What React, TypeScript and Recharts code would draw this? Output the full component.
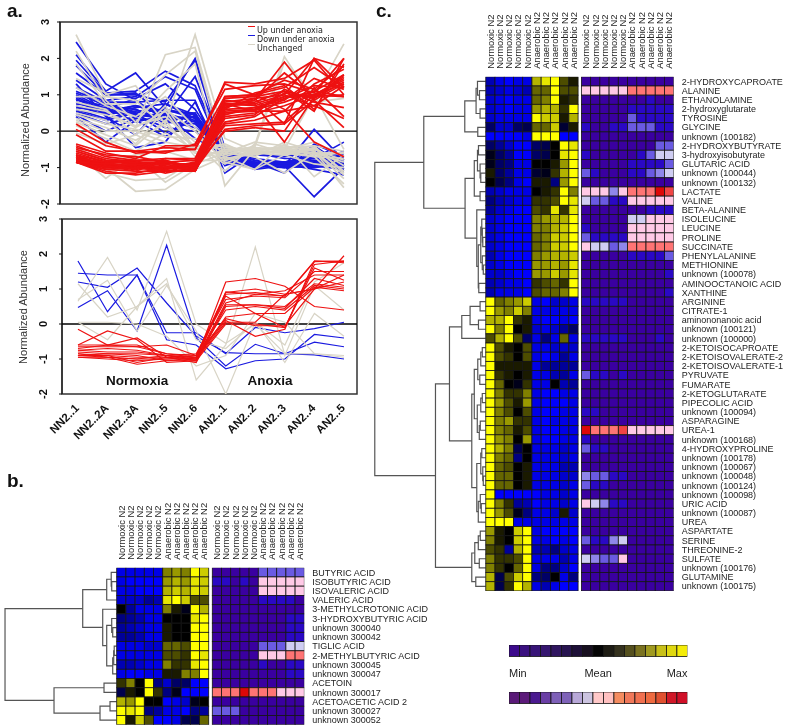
import { Legend, Line, LineChart, ReferenceArea, ReferenceDot, Scatter, ScatterChart, XAxis, YAxis } from 'recharts';

const SANS = '"Liberation Sans", Arial, sans-serif';

const sampleLabels = ['NN2..1', 'NN2..2A', 'NN2..3A', 'NN2..5', 'NN2..6', 'AN2..1', 'AN2..2', 'AN2..3', 'AN2..4', 'AN2..5'];
const yTicks = [-2, -1, 0, 1, 2, 3];
const zeroLine = [{ t: -0.54, v: 0 }, { t: 9.44, v: 0 }];

// panel a, top: normalized abundance per sample
const topRed = [
  [0.2, -0.3, -0.6, -0.55, -0.5, 1.35, 1.3, 1.45, 1.95, 1.0],
  [0.05, -0.4, -0.55, -0.6, -0.35, 1.15, 1.25, 1.3, 1.05, 2.0],
  [-0.1, -0.55, -0.55, -0.45, -0.5, 0.95, 1.0, 1.4, 1.15, 1.8],
  [-0.35, -0.6, -0.75, -0.4, -0.4, 1.3, 1.0, 1.2, 1.75, 1.2],
  [-0.4, -0.7, -0.8, -0.75, -0.75, 0.9, 0.95, 1.1, 0.55, 2.0],
  [-0.5, -0.75, -0.85, -0.85, -0.8, 0.8, 0.9, 1.0, 2.0, 1.75],
  [-0.55, -0.8, -0.9, -0.9, -0.9, 0.75, 0.8, 1.1, 0.9, 1.55],
  [-0.6, -0.85, -0.85, -0.95, -1.0, 0.75, 0.7, 0.95, 1.0, 1.4],
  [-0.65, -0.85, -0.9, -1.0, -0.95, 0.7, 0.75, 1.0, 0.7, 1.25],
  [-0.7, -0.9, -0.95, -0.85, -1.05, 0.65, 0.85, 1.9, 0.85, 1.3],
  [-0.75, -0.9, -1.0, -1.0, -1.0, 0.6, 0.65, 0.9, 1.25, 1.2],
  [-0.75, -0.95, -0.95, -0.9, -1.1, 0.55, 0.6, 0.95, 1.0, 0.95],
  [-0.8, -0.85, -0.85, -1.05, -0.95, 0.5, 0.6, 0.8, 1.1, 1.55],
  [-0.8, -0.95, -1.0, -1.1, -1.05, 0.5, 0.55, 1.05, 0.9, 1.35],
  [-0.8, -1.0, -1.05, -0.95, -1.1, 0.45, 0.65, 0.85, 1.45, 1.15],
  [-0.85, -1.05, -1.1, -1.1, -1.1, 0.4, 0.5, 0.7, 1.0, 1.45],
  [-0.85, -1.0, -0.95, -1.0, -1.0, 0.35, 0.45, 1.15, 0.8, 0.65],
  [-0.85, -1.1, -1.2, -1.1, -1.1, 0.75, 0.55, 0.55, 0.7, 0.35],
  [-0.85, -0.95, -1.0, -1.05, -0.9, 0.25, 0.4, 0.9, 1.1, 0.95],
  [-0.8, -0.9, -0.95, -1.15, -1.0, 0.2, 0.3, 0.55, 1.3, 1.7],
  [-0.7, -1.0, -0.9, -1.0, -0.85, 0.15, 0.2, 0.25, 1.0, 1.3],
  [-0.65, -0.95, -1.1, -0.8, -1.05, 0.05, 0.15, 0.2, 0.85, 0.1],
  [-0.85, -1.05, -1.0, -1.1, -0.95, 0.0, 0.1, 0.0, 1.2, 0.4],
  [-0.85, -1.15, -1.15, -1.0, -1.05, 0.95, 1.0, 0.6, -0.3, -0.7],
  [-0.55, -0.8, -0.8, -1.1, -1.1, 0.65, 0.9, 0.2, 2.0, 1.2],
  [-0.45, -0.65, -0.7, -0.85, -0.95, 0.85, 0.75, -0.3, 0.95, 1.0],
  [-0.75, -0.85, -1.05, -0.75, -0.8, 0.6, 1.05, 1.25, 0.6, 1.85],
  [-0.85, -0.9, -0.8, -0.8, -1.0, 0.7, 0.85, 1.6, 0.95, 1.5],
];
const topBlue = [
  [2.45, 1.3, 0.85, 0.3, 0.1, -0.5, -0.8, -0.85, -0.7, -0.75],
  [2.1, 1.1, 1.6, 0.65, 2.0, -0.45, -0.9, -0.9, -0.8, -0.85],
  [1.95, 1.05, 1.1, 1.65, 1.25, -0.6, -0.95, -0.9, -1.05, -1.2],
  [1.8, 1.0, 1.0, 0.8, 1.95, -0.7, -0.85, -1.15, -0.35, -0.7],
  [1.6, 1.0, 1.05, 0.4, 1.5, -0.55, -0.8, -0.95, -1.8, -1.0],
  [1.4, 0.85, 0.95, 1.5, 1.15, -0.75, -0.95, -0.85, -0.9, -0.6],
  [1.2, 0.8, 0.8, 0.85, 0.85, -1.15, -0.6, -0.75, -0.75, -0.3],
  [1.0, 0.6, 0.9, 1.3, 0.6, -0.65, -0.9, -0.95, 0.05, -0.8],
  [0.95, 0.55, 0.7, 0.55, 0.5, -0.9, -0.95, -0.9, -0.6, -0.95],
  [0.8, 0.5, 0.65, 0.75, 0.45, -0.6, -0.9, -0.85, -0.95, -0.7],
  [0.7, 0.45, 0.6, 0.3, 0.4, -0.95, -0.65, -0.7, -0.55, -0.85],
  [0.6, 0.35, 0.55, 0.6, 0.35, -0.55, -0.95, -1.0, -0.85, -0.55],
  [0.55, 0.3, 0.5, -0.05, 0.3, -0.7, -1.05, -0.95, -0.4, -0.95],
  [0.5, 0.2, 0.4, 0.5, 0.25, -0.85, -0.9, -0.9, -0.85, -0.65],
  [0.45, 0.0, 0.35, 0.25, 0.2, -0.6, -0.75, -0.85, -0.7, -1.1],
  [0.4, -0.3, 0.3, -0.15, 0.45, -0.5, -0.95, -0.9, -0.6, -0.8],
  [0.9, 0.45, -0.45, -0.3, 0.8, -0.8, -0.85, -0.95, -1.0, -0.9],
  [1.05, 0.7, 0.45, 0.1, 0.0, -0.65, -1.0, -0.9, -0.75, -0.75],
  [0.75, 0.65, 0.25, 0.45, -0.2, -0.6, -0.85, -1.0, -0.95, -1.05],
  [1.3, 0.4, -0.1, 0.75, 0.35, -0.7, -0.95, -0.85, -0.85, -0.9],
  [0.85, 0.7, 0.6, 0.2, 0.5, -0.75, -1.0, -0.92, -0.9, -0.85],
  [1.1, 0.75, 0.5, 0.6, 0.45, -0.65, -0.88, -0.98, -0.95, -0.95],
  [0.65, 0.55, 0.45, 0.35, 0.4, -0.85, -0.98, -0.88, -0.92, -0.8],
  [0.9, 0.5, 0.7, 0.45, 0.3, -0.7, -0.92, -0.95, -0.88, -1.0],
];
const topGray = [
  [2.65, 1.0, 1.25, 0.2, 2.65, -0.2, -0.55, -0.4, -0.55, -1.2],
  [2.2, 0.85, 0.1, 2.1, 2.3, -0.55, -0.5, -0.45, -0.6, -0.6],
  [1.85, 0.75, 0.75, 1.55, 2.2, -0.8, -0.6, -0.55, -0.6, -0.85],
  [1.45, 1.05, 0.25, 1.1, 1.85, -1.5, -0.5, -0.5, 0.95, 2.4],
  [1.2, 0.7, 0.4, 0.95, 0.1, -0.65, -0.4, 2.05, 0.8, 0.9],
  [0.95, 0.95, 0.85, 0.1, -0.4, -0.5, -0.45, 1.9, 1.0, -0.5],
  [0.8, 0.6, -0.1, 0.7, -0.5, -0.35, -0.7, -0.3, -0.55, -1.55],
  [0.7, 0.55, 0.1, 0.55, -0.55, -0.75, -0.6, -0.65, -0.45, -0.95],
  [0.6, 0.45, 0.15, 0.4, -0.3, -1.1, -0.35, -0.6, -0.45, -1.1],
  [0.5, 0.3, -0.35, 0.6, 0.0, -0.85, -1.05, -0.35, -1.25, -0.65],
  [0.45, 0.2, 0.05, -0.15, -0.2, -0.45, -0.55, -0.6, -0.5, -0.8],
  [0.35, 0.1, -0.25, 0.2, -0.6, -0.6, -0.3, -0.4, -0.55, -1.3],
  [0.3, 0.0, 0.0, -0.3, -0.45, -0.7, -0.45, -0.5, -0.3, -0.7],
  [0.25, -0.1, -0.4, 0.3, -0.7, -0.55, -0.65, -0.5, -0.65, -0.6],
  [0.15, -0.2, -0.55, -0.05, -0.5, -0.4, -0.6, -0.55, -0.4, -0.55],
  [-0.05, -0.35, -0.1, -0.45, -0.35, -0.9, -0.5, -0.45, -0.4, -1.15],
  [-0.45, -0.85, -0.65, -0.55, -0.8, -0.5, -0.55, -0.55, -0.7, -0.75],
  [-0.6, -1.3, -0.7, -1.4, -0.9, -0.6, -0.7, -1.15, -0.6, -0.6],
  [-0.7, -1.0, -1.65, -1.6, -1.05, -0.7, -1.05, -0.65, -0.9, -1.0],
  [-0.75, -1.15, -1.35, -1.3, -0.8, -0.8, -0.55, -0.6, -0.7, -1.45],
];

// panel a, bottom: the smaller selection
const botRed = [
  [-0.15, -0.6, -0.4, -0.95, -1.0, 1.2, 1.3, 1.08, 0.5, 0.4],
  [-0.6, -0.2, -0.45, -1.1, -1.05, 0.92, 0.85, 0.8, 1.8, 1.78],
  [-0.7, -0.6, -0.65, -0.6, -0.9, 0.9, 1.0, 0.85, 1.0, 1.95],
  [-0.6, -0.6, -0.6, -0.85, -0.9, 0.85, 0.9, 0.8, 1.78, 1.8],
  [-0.65, -0.65, -0.65, -0.85, -0.95, 0.8, 0.3, -0.1, 1.6, 1.25],
  [-0.75, -0.7, -0.75, -0.9, -0.85, 0.7, 0.8, 0.75, 1.5, 1.5],
  [-0.75, -0.8, -0.8, -0.9, -1.0, 0.6, 0.85, 0.95, 1.4, 1.4],
  [-0.8, -0.85, -0.85, -0.9, -1.05, 0.55, 0.55, 0.45, 1.3, 1.1],
  [-0.85, -0.9, -1.1, -0.95, -1.1, 0.5, 0.55, 0.5, 1.15, 1.05],
  [-0.85, -0.95, -1.0, -1.0, -0.95, 0.4, 0.5, 0.4, 1.1, 1.0],
  [-0.9, -0.85, -0.9, -1.05, -1.0, 0.2, 0.3, 0.3, 1.05, 0.95],
  [-0.9, -0.9, -0.95, -0.95, -0.9, 0.15, -0.05, -0.05, 1.0, 1.4],
  [-0.95, -0.95, -1.0, -0.9, -0.95, 0.1, -0.35, -0.15, 1.8, 1.75],
  [-0.95, -1.0, -1.05, -1.0, -1.0, 0.05, 0.05, 0.85, 1.0, 1.2],
  [-0.9, -0.95, -1.15, -1.05, -1.05, 0.0, 0.0, -0.1, 1.7, 1.8],
];
const botBlue = [
  [1.8, 0.35, 1.4, -0.45, -0.6, -1.28, -1.05, -1.0, -0.3, -0.4],
  [0.47, 0.95, -0.2, 2.25, -0.4, -1.2, -0.58, -0.85, -0.88, -1.0],
  [1.45, 1.4, 1.4, -0.25, -0.25, -0.85, -0.1, -0.25, -0.13, 0.05],
  [1.2, 1.05, 1.6, 0.6, -0.35, -0.82, -0.85, -0.85, -0.52, -0.65],
];
const botGray = [
  [0.65, 1.9, 0.4, 2.65, 0.0, -0.55, 0.0, -0.85, -0.85, -0.9],
  [1.15, 0.2, 0.5, 1.3, -1.6, -0.6, 2.2, -0.9, 1.1, 0.4],
  [0.7, 1.25, -0.2, 1.1, -0.2, -2.0, 0.05, -1.1, 0.3, -0.35],
  [0.05, 0.05, 0.0, -0.35, -1.2, -0.9, 0.3, 0.05, -0.85, -0.95],
  [0.05, -0.45, 0.5, 1.15, -0.45, -0.7, 0.05, -0.6, 1.2, 1.75],
];

const namesB = ['BUTYRIC ACID', 'ISOBUTYRIC ACID', 'ISOVALERIC ACID', 'VALERIC ACID', '3-METHYLCROTONIC ACID', '3-HYDROXYBUTYRIC ACID', 'unknown 300040', 'unknown 300042', 'TIGLIC ACID', '2-METHYLBUTYRIC ACID', 'unknown 300045', 'unknown 300047', 'ACETOIN', 'unknown 300017', 'ACETOACETIC ACID 2', 'unknown 300027', 'unknown 300052'];
const groupNames = ['Normoxic N2', 'Normoxic N2', 'Normoxic N2', 'Normoxic N2', 'Normoxic N2', 'Anaerobic N2', 'Anaerobic N2', 'Anaerobic N2', 'Anaerobic N2', 'Anaerobic N2'];

// -10 blue, 0 black, 10 yellow
const zScoreB = [
  [-9, -9, -9, -9, -9, 5, 6, 5, 10, 8],
  [-9, -10, -10, -10, -10, 6, 7, 6, 9, 8],
  [-9, -9, -10, -10, -10, 7, 8, 7, 9, 8],
  [-8, -8, -8, -6, -7, 9, 10, 8, 3, 3],
  [0, -6, -9, -9, -9, 5, 1, -1, 10, 7],
  [-5, -6, -7, -9, -9, 0, 0, 0, 9, 10],
  [-6, -7, -8, -9, -9, 1, 0, 0, 10, 10],
  [-6, -6, -7, -9, -9, 1, 0, 0, 10, 10],
  [-9, -9, -9, -8, -8, 4, 4, 3, 10, 10],
  [-9, -9, -9, -9, -9, 3, 3, 2, 10, 9],
  [-7, -7, -8, -9, -9, 5, 2, 2, 9, 10],
  [-9, -10, -10, -9, -9, 1, 1, 5, 5, 10],
  [2, 5, 0, 10, -5, -8, -4, -4, -10, -10],
  [-3, 1, 0, 10, 2, -5, -1, -10, -10, -10],
  [7, 6, 10, 0, 0, -10, -9, -8, -1, 0],
  [10, 9, 10, -5, -6, -9, -9, -10, -5, -6],
  [10, 1, 8, 3, -10, -10, -9, -3, -3, 4],
];
// 0 indigo up to 10 red
const foldB = [
  [0, 0, 0, 0, 0, 3, 3, 3, 3, 3],
  [1, 1, 0, 1, 0, 6, 6, 6, 6, 6],
  [0, 0, 0, 0, 0, 6, 6, 6, 6, 6],
  [0, 0, 0, 0, 0, 1, 1, 1, 1, 0],
  [0, 0, 0, 0, 0, 0, 0, 0, 0, 0],
  [0, 0, 0, 0, 0, 0, 0, 0, 1, 1],
  [0, 0, 0, 0, 0, 0, 0, 0, 1, 1],
  [0, 0, 0, 0, 0, 0, 0, 0, 1, 1],
  [0, 0, 0, 0, 0, 3, 3, 3, 5, 5],
  [0, 0, 0, 0, 0, 6, 6, 6, 8, 8],
  [0, 0, 0, 0, 0, 1, 0, 0, 1, 1],
  [0, 0, 0, 0, 0, 0, 0, 0, 1, 1],
  [0, 0, 0, 0, 0, 0, 0, 0, 0, 0],
  [8, 8, 8, 10, 8, 8, 8, 6, 6, 6],
  [0, 0, 0, 0, 0, 0, 0, 0, 0, 0],
  [3, 3, 3, 0, 0, 0, 0, 0, 0, 0],
  [0, 0, 0, 0, 0, 0, 0, 0, 0, 0],
];
// [height, child, child]; a plain number is a row
const treeB = [111.7,
  [34, [10, [5.5, 1, [5, 2, 3]], 4], [14, 5, [10, [5, 6, [4, 7, 8]], [4, [3, [2.5, 9, 10], 11], 12]]]],
  [62.7, [12.7, 13, 14], [16.7, [6.7, 15, 16], 17]]];

const namesC = ['2-HYDROXYCAPROATE', 'ALANINE', 'ETHANOLAMINE', '2-hydroxyglutarate', 'TYROSINE', 'GLYCINE', 'unknown (100182)', '2-HYDROXYBUTYRATE', '3-hydroxyisobutyrate', 'GLUTARIC ACID', 'unknown (100044)', 'unknown (100132)', 'LACTATE', 'VALINE', 'BETA-ALANINE', 'ISOLEUCINE', 'LEUCINE', 'PROLINE', 'SUCCINATE', 'PHENYLALANINE', 'METHIONINE', 'unknown (100078)', 'AMINOOCTANOIC ACID', 'XANTHINE', 'ARGININE', 'CITRATE-1', 'aminononanoic acid', 'unknown (100121)', 'unknown (100000)', '2-KETOISOCAPROATE', '2-KETOISOVALERATE-2', '2-KETOISOVALERATE-1', 'PYRUVATE', 'FUMARATE', '2-KETOGLUTARATE', 'PIPECOLIC ACID', 'unknown (100094)', 'ASPARAGINE', 'UREA-1', 'unknown (100168)', '4-HYDROXYPROLINE', 'unknown (100178)', 'unknown (100067)', 'unknown (100048)', 'unknown (100124)', 'unknown (100098)', 'URIC ACID', 'unknown (100087)', 'UREA', 'ASPARTATE', 'SERINE', 'THREONINE-2', 'SULFATE', 'unknown (100176)', 'GLUTAMINE', 'unknown (100175)'];
const zScoreC = [
  [-7, -9, -10, -9, -9, 7, 9, 10, 3, 1],
  [-7, -8, -9, -8, -7, 4, 4, 10, 3, 3],
  [-8, -9, -10, -9, -9, 4, 5, 10, 1, 2],
  [-8, -9, -10, -9, -9, 6, 7, 7, 2, 10],
  [-8, -9, -9, -9, -9, 10, 8, 8, 1, 7],
  [-4, -8, -8, -4, -3, 4, 4, 8, -2, 1],
  [-10, -10, -10, -10, -9, 10, 10, 10, -10, -10],
  [-4, -6, -8, -10, -10, -4, -3, 0, 10, 9],
  [-1, -4, -6, -10, -10, -4, -3, 0, 9, 10],
  [-1, -4, -5, -9, -9, 0, 0, 1, 6, 10],
  [1, -4, -6, -9, -9, -2, -1, 2, 7, 10],
  [0, -3, -5, -9, -10, 1, 1, -5, 6, 10],
  [-7, -8, -9, -9, -9, 0, 1, 2, 10, 5],
  [-5, -7, -8, -9, -9, 2, 2, 3, 10, 9],
  [-6, -8, -9, -10, -10, 3, 2, 9, 2, 9],
  [-8, -9, -10, -10, -10, 5, 6, 7, 7, 10],
  [-8, -9, -10, -10, -10, 5, 5, 7, 8, 10],
  [-8, -9, -10, -10, -10, 4, 5, 8, 8, 10],
  [-8, -9, -10, -10, -10, 4, 5, 8, 8, 10],
  [-7, -9, -10, -10, -10, 5, 6, 7, 7, 8],
  [-8, -9, -10, -10, -10, 6, 6, 7, 6, 9],
  [-8, -8, -9, -10, -10, 6, 6, 8, 6, 9],
  [-7, -8, -9, -9, -10, 2, 3, 4, 2, 10],
  [-7, -9, -9, -9, -10, 3, 4, 4, 5, 10],
  [10, 4, 5, 6, 8, -9, -10, -8, -8, -9],
  [10, 6, 5, 8, 5, -9, -9, -9, -9, -9],
  [7, 7, 10, 2, 1, -9, -10, -10, -9, -10],
  [10, 5, 10, 0, 1, -8, -9, -8, -6, -4],
  [3, 7, 10, 3, -4, -9, -5, -9, 4, -9],
  [10, 3, 1, 0, 3, -9, -9, -8, -8, -8],
  [10, 3, 2, 0, 3, -9, -10, -9, -6, -9],
  [10, 1, 1, 1, 1, -9, -6, -6, -6, -6],
  [10, 2, 1, 0, 1, -9, -9, -7, -6, -9],
  [10, 4, 0, -1, 2, -9, -9, 0, -7, -6],
  [10, 5, 2, 2, 5, -9, -10, -10, -9, -9],
  [10, 6, 3, 1, 6, -9, -10, -10, -10, -9],
  [10, 5, 3, 0, 3, -9, -10, -10, -9, -9],
  [10, 5, 6, 2, 2, -9, -10, -9, -9, -9],
  [10, 5, 4, 1, 3, -9, -10, -10, -9, -9],
  [10, 6, 5, 0, 6, -9, -10, -10, -9, -9],
  [10, 7, 5, -3, 0, -9, -9, -9, -8, -9],
  [10, 5, 4, -5, 0, -9, -9, -9, -8, -9],
  [10, 4, 3, 0, 1, -9, -9, -9, -7, -7],
  [10, 4, 4, 0, 1, -9, -9, -9, -8, -8],
  [10, 4, 4, 0, 1, -9, -9, -9, -8, -9],
  [10, -10, -10, -10, -10, -10, -9, -9, -8, -9],
  [10, 5, 2, -6, -7, -10, -9, -9, -8, -9],
  [10, 6, 3, -1, -5, -9, -9, -8, 1, -8],
  [10, 10, 10, -9, -9, -9, -9, -9, -9, -9],
  [6, 1, 0, 8, 10, -9, -10, -10, -10, -10],
  [5, 1, 0, 8, 10, -9, -9, -10, -9, -10],
  [3, 2, -6, 7, 10, -7, -7, -5, -8, -9],
  [5, 2, 2, 3, 10, -9, -9, -9, -7, -9],
  [5, 2, 0, 4, 10, -9, -5, -5, -8, -10],
  [7, -3, 3, 8, 10, -5, -4, 0, -9, -5],
  [7, -3, 2, 10, 7, -9, -7, -9, -10, -10],
];
const foldC = [
  [0, 0, 0, 0, 0, 0, 0, 0, 0, 0],
  [6, 6, 6, 6, 6, 8, 8, 8, 8, 8],
  [0, 0, 0, 0, 0, 0, 0, 1, 0, 0],
  [0, 0, 0, 0, 0, 1, 1, 1, 1, 1],
  [0, 0, 0, 0, 0, 3, 1, 1, 1, 1],
  [1, 0, 0, 1, 1, 3, 3, 3, 1, 1],
  [0, 0, 0, 0, 0, 0, 0, 0, 0, 0],
  [0, 0, 0, 0, 0, 0, 0, 0, 3, 3],
  [1, 0, 0, 0, 0, 0, 1, 3, 5, 5],
  [0, 0, 0, 0, 0, 1, 1, 1, 1, 3],
  [3, 1, 0, 0, 0, 1, 1, 3, 4, 5],
  [0, 0, 0, 0, 0, 0, 0, 0, 0, 0],
  [6, 6, 6, 4, 6, 8, 8, 8, 10, 9],
  [5, 3, 3, 1, 1, 6, 6, 6, 6, 6],
  [0, 0, 0, 0, 0, 0, 0, 1, 1, 1],
  [0, 0, 0, 0, 0, 5, 5, 6, 6, 6],
  [1, 0, 0, 0, 0, 6, 6, 6, 6, 6],
  [3, 1, 1, 1, 1, 6, 6, 6, 6, 6],
  [6, 5, 5, 3, 4, 8, 8, 8, 8, 8],
  [0, 0, 0, 0, 0, 1, 1, 1, 1, 3],
  [0, 0, 0, 0, 0, 0, 0, 0, 0, 0],
  [0, 0, 0, 0, 0, 0, 0, 0, 0, 1],
  [0, 0, 0, 0, 0, 0, 0, 0, 0, 0],
  [0, 0, 0, 0, 0, 0, 0, 0, 0, 1],
  [1, 1, 1, 1, 1, 0, 0, 0, 0, 0],
  [0, 0, 0, 0, 0, 0, 0, 0, 0, 0],
  [0, 0, 0, 0, 0, 0, 0, 0, 0, 0],
  [0, 0, 0, 0, 0, 0, 0, 0, 0, 0],
  [1, 1, 1, 1, 1, 0, 0, 0, 1, 0],
  [0, 0, 0, 0, 0, 0, 0, 0, 0, 0],
  [0, 0, 0, 0, 0, 0, 0, 0, 0, 0],
  [0, 0, 0, 0, 0, 0, 0, 0, 0, 0],
  [3, 1, 1, 0, 1, 0, 0, 0, 0, 0],
  [0, 0, 0, 0, 0, 0, 0, 0, 0, 0],
  [0, 0, 0, 0, 0, 0, 0, 0, 0, 0],
  [0, 0, 0, 0, 0, 0, 0, 0, 0, 0],
  [1, 1, 0, 0, 0, 0, 0, 0, 0, 0],
  [0, 0, 0, 0, 0, 0, 0, 0, 0, 0],
  [10, 8, 8, 8, 9, 6, 6, 6, 6, 6],
  [1, 0, 0, 0, 0, 0, 0, 0, 0, 0],
  [3, 1, 1, 0, 0, 0, 0, 0, 0, 0],
  [0, 0, 0, 0, 0, 0, 0, 0, 0, 0],
  [0, 0, 0, 0, 0, 0, 0, 0, 0, 0],
  [4, 3, 3, 1, 1, 0, 0, 0, 0, 0],
  [3, 1, 1, 0, 0, 0, 0, 0, 0, 0],
  [0, 0, 0, 0, 0, 0, 0, 0, 0, 0],
  [6, 5, 4, 1, 1, 0, 0, 0, 0, 0],
  [0, 0, 0, 0, 0, 0, 0, 0, 0, 0],
  [0, 0, 0, 0, 0, 0, 0, 0, 0, 0],
  [0, 0, 0, 0, 0, 0, 0, 0, 0, 0],
  [3, 1, 1, 4, 5, 0, 0, 0, 0, 0],
  [0, 0, 0, 0, 0, 0, 0, 0, 0, 0],
  [5, 4, 3, 3, 6, 0, 0, 0, 0, 0],
  [0, 0, 0, 0, 0, 0, 0, 0, 0, 0],
  [0, 0, 0, 0, 0, 0, 0, 0, 0, 0],
  [0, 0, 0, 0, 0, 0, 0, 0, 0, 0],
];
const treeC = [111,
  [62,
    [21, [9.7, [8.3, 1, [6.3, 2, 3]], [5.7, 4, 5]], [8, 6, 7]],
    [20.7,
      [11.5, [8.3, [7.3, 8, 9], [5.7, 10, [5, 11, 12]]], [5.7, 13, 14]],
      [9, 15, [7.5, [5, [4, 16, [3.5, 17, [3, 18, 19]]], [3.5, 20, [2.5, 21, 22]]], [7, 23, 24]]]]],
  [50.3,
    [36.3,
      [24, [15.7, [5.7, 25, 26], [7.3, 27, 28]], 29],
      [14,
        [11.5, [8, [5, [3.5, 30, 31], 32], [6, 33, 34]], [8.5, [5, [3.5, 35, 36], 37], [6.5, [5.5, 38, 39], 40]]],
        [9, [5, [4, 41, 42], [3, 43, [2.5, 44, 45]]], [7.5, [5.5, 46, [4.5, 47, 48]], 49]]]],
    [14, [11, [7.5, [5.5, 50, 51], 52], [6.5, 53, 54]], [10, 55, 56]]]];

const foldPalette = ['#3a00a0', '#2a08c4', '#2424d2', '#6a5ae2', '#8f86ea', '#cfcdf2', '#ffc9e6', '#ff9a9e', '#ff7474', '#f04444', '#dd0808'];
const scaleTop = ['#3c0a8c', '#3a1080', '#381478', '#361670', '#301660', '#281450', '#1e1038', '#181020', '#050505', '#1e1c14', '#35321e', '#55501e', '#7a7220', '#a09a20', '#c8c018', '#e0d810', '#f4ec08'];
const scaleBottom = ['#5a1a78', '#5c1a7a', '#4b1a90', '#6a3ea5', '#7e60b8', '#7e62b8', '#b8a8d8', '#ccc4e0', '#ffc8c8', '#ffc0c0', '#f48c60', '#f0785a', '#f07050', '#ee6a40', '#e05030', '#d01828', '#d01028'];
const scaleLabels = ['Min', 'Mean', 'Max'];

function zColor(v: number) {
  if (v < 0) return `rgb(0,0,${Math.round(255 * (-v / 10))})`;
  const c = Math.round(255 * (v / 10));
  return `rgb(${c},${c},0)`;
}

function linePoints(values: number[]) {
  return values.map((v, i) => ({ t: i, v }));
}

const CellRect = (w: number, h: number) => (props: any) => (
  <rect x={props.cx - w / 2} y={props.cy - h / 2} width={w} height={h} fill={props.payload.fill} stroke="#141414" strokeWidth={0.8} />
);

const YTick = ({ x, y, payload, shift }: any) => (
  <text x={x - shift} y={y} textAnchor="middle" fontFamily={SANS} fontWeight="bold" fontSize={11} fill="#111" transform={`rotate(-90 ${x - shift} ${y})`}>
    {payload.value}
  </text>
);

const SampleTick = ({ x, y, payload }: any) => (
  <text x={x - 1} y={y + 4} textAnchor="end" fontFamily={SANS} fontWeight="bold" fontSize={11.5} fill="#111" transform={`rotate(-45 ${x - 1} ${y + 4})`} dy={4}>
    {sampleLabels[payload.value]}
  </text>
);

const AbundanceLegend = () => (
  <div style={{ fontFamily: '"DejaVu Sans", sans-serif', fontSize: 8, lineHeight: '9px', color: '#222' }}>
    {[['Up under anoxia', '#ee1111'], ['Down under anoxia', '#1a1ae0'], ['Unchanged', '#d8d4c6']].map(([name, color]) => (
      <div key={name} style={{ height: 9, position: 'relative', paddingLeft: 9 }}>
        <span style={{ position: 'absolute', left: 0, top: 0, width: 7, height: 1.5, background: color }} />
        {name}
      </div>
    ))}
  </div>
);

function AbundancePanel({ top, height, margin, red, blue, gray, width, showSamples, labelPos, lineWidth, tickShift }: any) {
  return (
    <div style={{ position: 'absolute', left: 0, top }}>
      <LineChart width={370} height={height} margin={margin}>
        <XAxis
          dataKey="t"
          type="number"
          domain={[-0.54, 9.44]}
          ticks={sampleLabels.map((_, i) => i)}
          interval={0}
          height={margin.xHeight}
          axisLine={false}
          tickLine={false}
          tick={showSamples ? <SampleTick /> : false}
          allowDataOverflow
        />
        <YAxis
          type="number"
          domain={[-2, 3]}
          ticks={yTicks}
          width={width}
          interval={0}
          tickSize={3}
          stroke="#111"
          tick={<YTick shift={tickShift} />}
          allowDataOverflow
          label={{ value: 'Normalized  Abundance', angle: -90, position: labelPos, textAnchor: 'middle', fontFamily: SANS, fontSize: 11, fill: '#333' }}
        />
        <Line data={zeroLine} dataKey="v" stroke="#000" strokeWidth={1.3} dot={false} isAnimationActive={false} />
        {blue.map((row: number[], i: number) => (
          <Line key={`b${i}`} data={linePoints(row)} dataKey="v" stroke="#1a1ae0" strokeWidth={lineWidth} dot={false} isAnimationActive={false} />
        ))}
        {gray.map((row: number[], i: number) => (
          <Line key={`g${i}`} data={linePoints(row)} dataKey="v" stroke="#d8d4c6" strokeWidth={lineWidth} dot={false} isAnimationActive={false} />
        ))}
        {red.map((row: number[], i: number) => (
          <Line key={`r${i}`} data={linePoints(row)} dataKey="v" stroke="#ee1111" strokeWidth={lineWidth} dot={false} isAnimationActive={false} />
        ))}
        <ReferenceArea x1={-0.54} x2={9.44} y1={-2} y2={3} fill="none" stroke="#333" strokeWidth={1.5} ifOverflow="visible" />
        {showSamples ? (
          <>
            <ReferenceDot x={2} y={-1.6} r={0} fill="none" stroke="none" label={{ value: 'Normoxia', fontFamily: SANS, fontWeight: 'bold', fontSize: 13.5, fill: '#111' }} />
            <ReferenceDot x={6.5} y={-1.6} r={0} fill="none" stroke="none" label={{ value: 'Anoxia', fontFamily: SANS, fontWeight: 'bold', fontSize: 13.5, fill: '#111' }} />
          </>
        ) : (
          <Legend layout="vertical" align="center" verticalAlign="middle" content={<AbundanceLegend />} wrapperStyle={{ left: 248, top: 25.5, width: 100 }} />
        )}
      </LineChart>
    </div>
  );
}

// walks a nested tree and collects one polyline per merge
function treeLinks(node: any, links: any[], scale: number): { y: number; h: number } {
  if (typeof node === 'number') return { y: node - 0.5, h: 0 };
  const [h, a, b] = node;
  const first = treeLinks(a, links, scale);
  const second = treeLinks(b, links, scale);
  links.push([
    { x: -first.h * scale, y: first.y },
    { x: -h * scale, y: first.y },
    { x: -h * scale, y: second.y },
    { x: -second.h * scale, y: second.y },
  ]);
  return { y: (first.y + second.y) / 2, h };
}

function Heatmap({ left, top, width, plotWidth, xHeight, rowH, cellW, gap, names, zScores, folds, tree }: any) {
  const rows = names.length;
  const plotHeight = rows * rowH;
  const minX = -(plotWidth - (10 + gap + 10) * cellW) / cellW;
  const maxX = 10 + gap + 10;
  const links: any[] = [];
  treeLinks(tree, links, 1 / cellW);
  const zCells = zScores.flatMap((row: number[], r: number) => row.map((v, c) => ({ x: c + 0.5, y: r + 0.5, fill: zColor(v) })));
  const foldCells = folds.flatMap((row: number[], r: number) => row.map((v, c) => ({ x: 10 + gap + c + 0.5, y: r + 0.5, fill: foldPalette[v] })));
  const colTicks = [...groupNames.map((_, i) => i + 0.5), ...groupNames.map((_, i) => 10 + gap + i + 0.5)];
  const shape = CellRect(cellW, rowH);
  return (
    <div style={{ position: 'absolute', left, top }}>
      <ScatterChart width={width} height={xHeight + plotHeight} margin={{ top: 0, right: 0, bottom: 0, left: 0 }}>
        <XAxis
          dataKey="x"
          type="number"
          orientation="top"
          height={xHeight}
          domain={[minX, maxX]}
          ticks={colTicks}
          interval={0}
          axisLine={false}
          tickLine={false}
          allowDataOverflow
          tick={({ x, index }: any) => (
            <text x={x + 3.3} y={xHeight - 8} fontFamily={SANS} fontSize={9.4} fill="#222" transform={`rotate(-90 ${x + 3.3} ${xHeight - 8})`}>
              {groupNames[index % 10]}
            </text>
          )}
        />
        <YAxis
          dataKey="y"
          type="number"
          orientation="right"
          reversed
          width={width - plotWidth}
          domain={[0, rows]}
          ticks={names.map((_: string, i: number) => i + 0.5)}
          interval={0}
          axisLine={false}
          tickLine={false}
          allowDataOverflow
          tick={({ y, index }: any) => (
            <text x={plotWidth + 8} y={y + 3.2} fontFamily={SANS} fontSize={9} fill="#222">
              {names[index]}
            </text>
          )}
        />
        {links.map((pts, i) => (
          <Scatter key={i} data={pts} line={{ stroke: '#555', strokeWidth: 1.2 }} shape={() => <g />} isAnimationActive={false} />
        ))}
        <Scatter data={zCells} shape={shape} isAnimationActive={false} />
        <Scatter data={foldCells} shape={shape} isAnimationActive={false} />
      </ScatterChart>
    </div>
  );
}

function ColorBar({ left, top, colors, labels }: any) {
  const cells = colors.map((fill: string, i: number) => ({ x: i + 0.5, y: 0.5, fill }));
  const barW = 178.4;
  const barH = 11.5;
  const cellW = barW / colors.length;
  return (
    <div style={{ position: 'absolute', left, top }}>
      <ScatterChart width={barW} height={labels ? barH + 30 : barH} margin={{ top: 0, right: 0, bottom: 0, left: 0 }}>
        <XAxis
          dataKey="x"
          type="number"
          domain={[0, colors.length]}
          ticks={labels ? [0, colors.length / 2, colors.length] : []}
          interval={0}
          height={labels ? 30 : 0}
          hide={!labels}
          axisLine={false}
          tickLine={false}
          allowDataOverflow
          tick={({ x, index }: any) => (
            <text x={x} y={barH + 21} textAnchor={['start', 'middle', 'end'][index]} fontFamily={SANS} fontSize={11} fill="#222">
              {scaleLabels[index]}
            </text>
          )}
        />
        <YAxis dataKey="y" type="number" domain={[0, 1]} hide width={0} />
        <Scatter data={cells} shape={CellRect(cellW, barH)} isAnimationActive={false} />
      </ScatterChart>
    </div>
  );
}

const panelLetter = (text: string, left: number, top: number) => (
  <div style={{ position: 'absolute', left, top, fontFamily: SANS, fontWeight: 'bold', fontSize: 19, lineHeight: '22px', color: '#111' }}>{text}</div>
);

export default function App() {
  return (
    <div style={{ position: 'absolute', left: 0, top: 0, width: 787, height: 728, background: '#fff', overflow: 'hidden', filter: 'blur(0.3px)' }}>
      {panelLetter('a.', 7, 0)}
      {panelLetter('b.', 7, 470)}
      {panelLetter('c.', 376, 0)}
      <AbundancePanel
        top={0}
        height={240}
        margin={{ top: 22, right: 13, bottom: 0, left: 0, xHeight: 36 }}
        red={topRed}
        blue={topBlue}
        gray={topGray}
        width={60}
        showSamples={false}
        labelPos={{ x: 29, y: 98 }}
        lineWidth={1.7}
        tickShift={6}
      />
      <AbundancePanel
        top={210}
        height={250}
        margin={{ top: 9, right: 13, bottom: 0, left: 0, xHeight: 66 }}
        red={botRed}
        blue={botBlue}
        gray={botGray}
        width={62}
        showSamples
        labelPos={{ x: 27, y: 88 }}
        lineWidth={1.2}
        tickShift={10}
      />
      <Heatmap left={4} top={470} width={440} plotWidth={300.3} xHeight={97.7} rowH={9.235} cellW={9.2} gap={0.39} names={namesB} zScores={zScoreB} folds={foldB} tree={treeB} />
      <Heatmap left={372} top={0} width={415} plotWidth={301.7} xHeight={76.8} rowH={9.18} cellW={9.23} gap={0.36} names={namesC} zScores={zScoreC} folds={foldC} tree={treeC} />
      <ColorBar left={509.3} top={645.3} colors={scaleTop} labels />
      <ColorBar left={509.3} top={692} colors={scaleBottom} labels={false} />
    </div>
  );
}
